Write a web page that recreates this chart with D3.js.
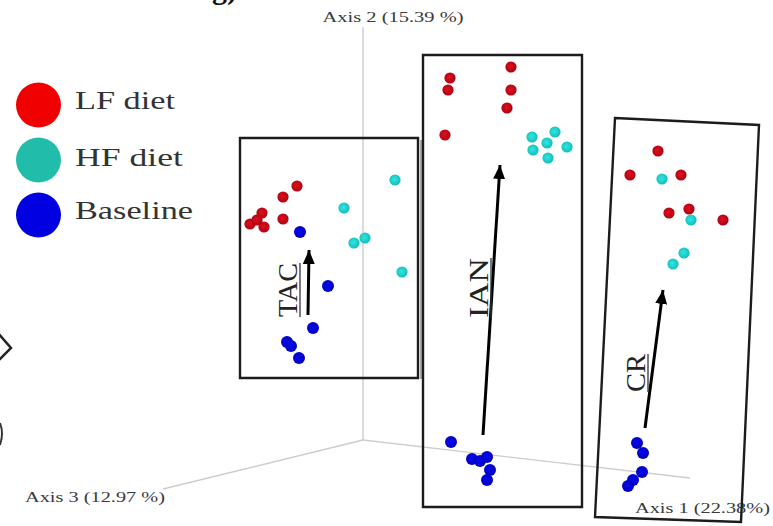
<!DOCTYPE html>
<html><head><meta charset="utf-8">
<script src="https://cdn.jsdelivr.net/npm/d3@7"></script>
<style>
html,body{margin:0;padding:0;background:#fff;}
svg{display:block;}
text{font-family:"Liberation Serif","DejaVu Serif",serif;}
</style></head>
<body><svg id="chart" width="773" height="526"></svg>
<script>
// ---- data (projected PCoA coordinates, arbitrary units) ----
const groups = ["LF diet", "HF diet", "Baseline"];
const groupColors = ["#f00000", "#22bcaa", "#0000e0"];
const lfDiet = [
  [-0.66,2.54],[-0.80,2.43],[-1.01,2.27],[-1.13,2.16],[-0.99,2.13],[-0.80,2.21],[-1.06,2.20],
  [0.87,3.62],[0.85,3.50],[1.48,3.73],[1.48,3.50],[1.44,3.32],[0.82,3.05],
  [2.95,2.89],[2.67,2.65],[3.18,2.65],[3.06,2.27],[3.26,2.31],[3.60,2.20]
];
const hfDiet = [
  [0.32,2.60],[-0.19,2.32],[-0.09,1.97],[0.02,2.02],[0.39,1.68],
  [1.69,3.03],[1.92,3.08],[1.84,2.97],[1.70,2.90],[2.04,2.93],[1.85,2.82],
  [2.99,2.61],[3.28,2.20],[3.21,1.87],[3.10,1.76]
];
const baseline = [
  [-0.63,2.08],[-0.35,1.54],[-0.50,1.12],[-0.76,0.98],[-0.72,0.94],[-0.64,0.82],
  [0.88,-0.02],[1.09,-0.19],[1.17,-0.21],[1.24,-0.17],[1.27,-0.30],[1.24,-0.40],
  [2.74,-0.03],[2.80,-0.13],[2.79,-0.32],[2.70,-0.40],[2.65,-0.46]
];
const axisNames = ["Axis 1 (22.38%)", "Axis 2 (15.39 %)", "Axis 3 (12.97 %)"];
const axisEnds = [[3.27,-0.38],[0,4.13],[-2.00,-0.49]];
const boxLabels = ["TAC", "IAN", "CR"];
const boxCorners = [
  [[-1.23,3.02],[0.55,3.02],[0.55,0.62],[-1.23,0.62]],
  [[0.60,3.85],[2.19,3.85],[2.19,-0.67],[0.60,-0.67]],
  [[2.52,3.22],[3.96,3.15],[3.78,-0.82],[2.32,-0.77]]
];
const arrows = [
  [[-0.55,1.25],[-0.54,1.90]],
  [[1.20,0.05],[1.37,2.75]],
  [[2.82,0.12],[3.00,1.50]]
];

// ---- scales ----
const W = 773, H = 526;
const x = d3.scaleLinear().domain([-3.63, 4.10]).range([0, W]);
const y = d3.scaleLinear().domain([4.40, -0.86]).range([0, H]);

const svg = d3.select("#chart");
const defs = svg.append("defs");

function grad(id, c0, c1){
  const g = defs.append("radialGradient").attr("id", id).attr("cx","45%").attr("cy","45%").attr("r","60%");
  g.append("stop").attr("offset","0%").attr("stop-color", c0);
  g.append("stop").attr("offset","100%").attr("stop-color", c1);
}
grad("gRed", "#e0101c", "#a80012");
grad("gTeal", "#30e8e0", "#12b8b8");
grad("gBlue", "#0808f0", "#0000b8");

defs.append("marker").attr("id","ah").attr("viewBox","0 0 14 12")
  .attr("refX",14).attr("refY",6).attr("markerWidth",14).attr("markerHeight",12)
  .attr("markerUnits","userSpaceOnUse").attr("orient","auto")
  .append("path").attr("d","M0,0 L14,6 L0,12 Z").attr("fill","#000");

// fragments of neighbouring panel
svg.append("text").attr("x",212).attr("y",-1).attr("font-size",30).attr("font-weight","bold")
  .attr("fill","#111").text("g)");
svg.append("path").attr("d","M-2,333 L11,348 L-2,361").attr("fill","none").attr("stroke","#222").attr("stroke-width",2.5);
svg.append("path").attr("d","M0,423 Q4,433 0,445").attr("fill","none").attr("stroke","#333").attr("stroke-width",2);

// ---- axes (3D projected) ----
const o = [0,0];
svg.append("g").selectAll("line").data(axisEnds).join("line")
  .attr("x1", x(o[0])).attr("y1", y(o[1]))
  .attr("x2", d => x(d[0])).attr("y2", d => y(d[1]))
  .attr("stroke","#cdcdcd").attr("stroke-width",1.4);

const axisLabelPos = [
  {x:635, y:513, anchor:"start", len:135},
  {x:393, y:22, anchor:"middle", len:141},
  {x:25, y:502, anchor:"start", len:140}
];
svg.append("g").selectAll("text").data(axisNames).join("text")
  .attr("x",(d,i)=>axisLabelPos[i].x).attr("y",(d,i)=>axisLabelPos[i].y)
  .attr("text-anchor",(d,i)=>axisLabelPos[i].anchor)
  .attr("textLength",(d,i)=>axisLabelPos[i].len).attr("lengthAdjust","spacingAndGlyphs")
  .attr("font-size",15).attr("fill","#3a3a3a").text(d=>d);

// ---- boxes ----
const line = d3.line().x(d=>x(d[0])).y(d=>y(d[1]));
svg.append("line").attr("x1", x(boxCorners[0][1][0])+3).attr("y1", y(boxCorners[0][1][1])+2)
  .attr("x2", x(boxCorners[0][2][0])+3).attr("y2", y(boxCorners[0][2][1])+1)
  .attr("stroke","#aaa").attr("stroke-width",2);
svg.append("g").selectAll("path").data(boxCorners).join("path")
  .attr("d", d => line(d) + "Z")
  .attr("fill","none").attr("stroke","#1c1c1c").attr("stroke-width",2.4);

// ---- points ----
const series = [
  {data: lfDiet, fill:"url(#gRed)", r:5.6},
  {data: hfDiet, fill:"url(#gTeal)", r:5.6},
  {data: baseline, fill:"url(#gBlue)", r:6}
];
series.forEach(s => {
  svg.append("g").selectAll("circle").data(s.data).join("circle")
    .attr("cx", d=>x(d[0])).attr("cy", d=>y(d[1])).attr("r", s.r).attr("fill", s.fill);
});

// ---- arrows ----
svg.append("g").selectAll("line").data(arrows).join("line")
  .attr("x1", d=>x(d[0][0])).attr("y1", d=>y(d[0][1]))
  .attr("x2", d=>x(d[1][0])).attr("y2", d=>y(d[1][1]))
  .attr("stroke","#000").attr("stroke-width",3).attr("marker-end","url(#ah)");

// ---- rotated underlined box labels ----
const labelPos = [
  {x:297, y:290, len:54},
  {x:488, y:288, len:60},
  {x:645, y:373, len:38}
];
boxLabels.forEach((t,i) => {
  const p = labelPos[i];
  const g = svg.append("g").attr("transform", `translate(${p.x},${p.y}) rotate(-90)`);
  g.append("text").attr("x",0).attr("y",0).attr("text-anchor","middle")
    .attr("font-size",27).attr("fill","#222")
    .attr("textLength",p.len).attr("lengthAdjust","spacingAndGlyphs").text(t);
  g.append("line").attr("x1",-p.len/2).attr("x2",p.len/2).attr("y1",3).attr("y2",3)
    .attr("stroke","#333").attr("stroke-width",1.3);
});

// ---- legend ----
const legendY = [105, 160, 215];
const legendLen = [100, 108, 118];
const lg = svg.append("g");
lg.selectAll("circle").data(groups).join("circle")
  .attr("cx",38.5).attr("cy",(d,i)=>legendY[i]).attr("r",22.5)
  .attr("fill",(d,i)=>groupColors[i]);
lg.selectAll("text").data(groups).join("text")
  .attr("x",75).attr("y",(d,i)=>legendY[i]+4 + (i===1?2:0))
  .attr("font-size",26).attr("fill","#333")
  .attr("textLength",(d,i)=>legendLen[i]).attr("lengthAdjust","spacingAndGlyphs")
  .text(d=>d);
</script>
</body></html>
